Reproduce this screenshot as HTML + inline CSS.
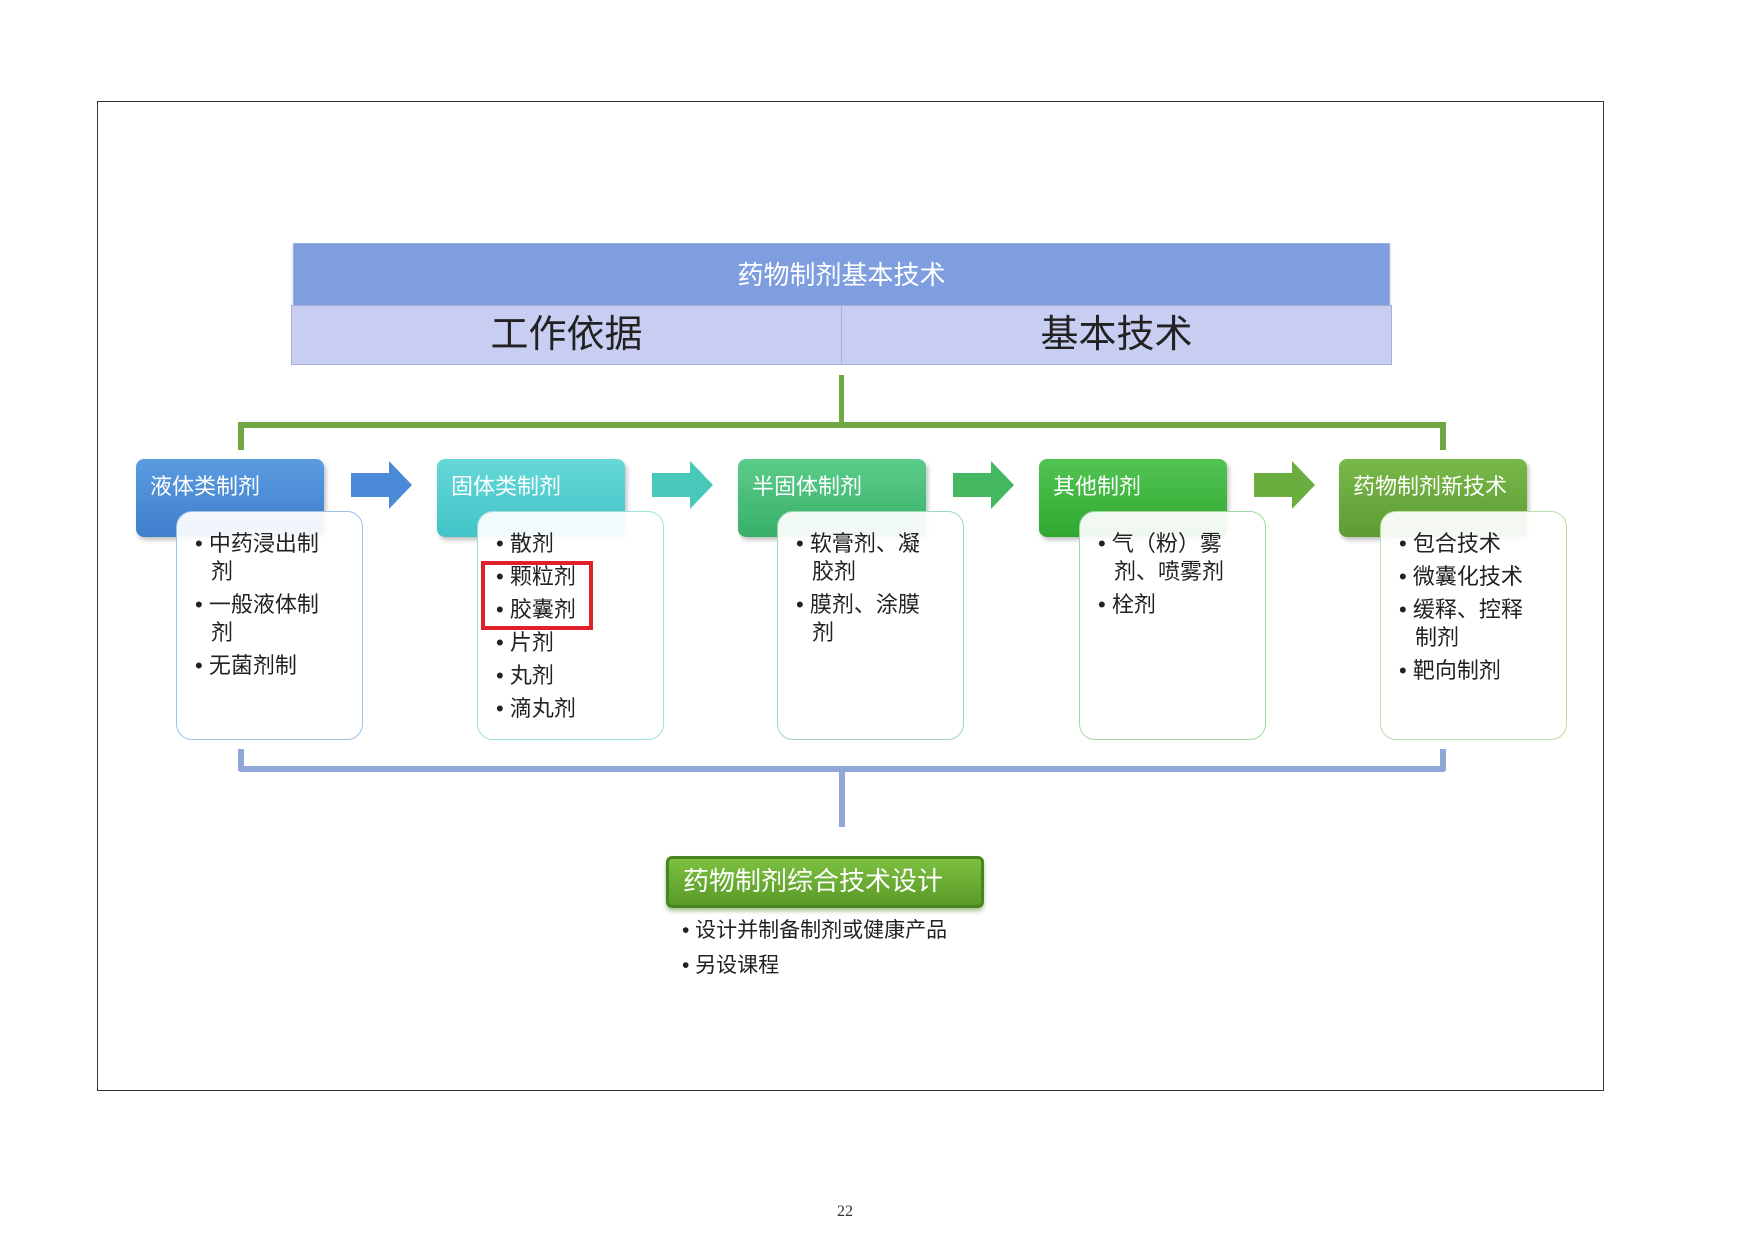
<!DOCTYPE html>
<html><head><meta charset="utf-8"><style>
body{margin:0;width:1754px;height:1240px;background:#fff;position:relative;overflow:hidden;font-family:"Liberation Sans","Noto Sans CJK SC",sans-serif;}
.a{position:absolute;}
.hd{position:absolute;width:188px;height:78px;top:459px;border-radius:8px;color:#fff;font-size:22px;box-sizing:border-box;padding:10px 14px;box-shadow:2px 3px 5px rgba(0,0,0,.25);}
.bx{position:absolute;width:187px;height:229px;top:511px;background:rgba(255,255,255,.93);border-radius:16px;box-sizing:border-box;padding:18px 36px 0 18px;font-size:22px;color:#222;line-height:28px;}
.bx div{padding-left:16px;text-indent:-16px;margin-bottom:5px;}
.ar{position:absolute;top:461px;width:61px;height:48px;}
</style></head><body>
<div class="a" style="left:97px;top:101px;width:1505px;height:988px;border:1px solid #333;"></div>

<div class="a" style="left:293px;top:243px;width:1095px;height:62px;background:#7f9ee0;border:1px solid #9ab0e8;color:#fff;font-size:26px;text-align:center;line-height:62px;box-shadow:0 2px 3px rgba(0,0,0,.2);">药物制剂基本技术</div>
<div class="a" style="left:291px;top:305px;width:549px;height:58px;background:#c8cdf2;border:1px solid #a9b0d8;font-size:38px;color:#222;text-align:center;line-height:58px;">工作依据</div>
<div class="a" style="left:841px;top:305px;width:549px;height:58px;background:#c8cdf2;border:1px solid #a9b0d8;font-size:38px;color:#222;text-align:center;line-height:58px;">基本技术</div>

<div class="a" style="left:839px;top:375px;width:5px;height:52px;background:#70a846;"></div>
<div class="a" style="left:238px;top:422px;width:1208px;height:6px;background:#70a846;border-radius:4px;"></div>
<div class="a" style="left:238px;top:422px;width:6px;height:28px;background:#70a846;"></div>
<div class="a" style="left:1440px;top:422px;width:6px;height:28px;background:#70a846;"></div>

<div class="hd" style="left:136px;background:linear-gradient(#5a9be0,#3f7fcc);">液体类制剂</div>
<div class="hd" style="left:437px;background:linear-gradient(#66d8d8,#42c4c8);">固体类制剂</div>
<div class="hd" style="left:738px;background:linear-gradient(#5acc8a,#38b068);">半固体制剂</div>
<div class="hd" style="left:1039px;background:linear-gradient(#52c452,#30a830);">其他制剂</div>
<div class="hd" style="left:1339px;background:linear-gradient(#7ab84a,#5c9c32);">药物制剂新技术</div>

<svg class="ar" style="left:351px" viewBox="0 0 61 48"><polygon points="0,12 38,12 38,0 61,24 38,48 38,36 0,36" fill="#4a8ad8"/></svg>
<svg class="ar" style="left:652px" viewBox="0 0 61 48"><polygon points="0,12 38,12 38,0 61,24 38,48 38,36 0,36" fill="#48c8b8"/></svg>
<svg class="ar" style="left:953px" viewBox="0 0 61 48"><polygon points="0,12 38,12 38,0 61,24 38,48 38,36 0,36" fill="#44b860"/></svg>
<svg class="ar" style="left:1254px" viewBox="0 0 61 48"><polygon points="0,12 38,12 38,0 61,24 38,48 38,36 0,36" fill="#6aae40"/></svg>

<div class="bx" style="left:176px;border:1.5px solid #9cc0e6;"><div>• 中药浸出制剂</div><div>• 一般液体制剂</div><div>• 无菌剂制</div></div>
<div class="bx" style="left:477px;border:1.5px solid #9ee0de;"><div>• 散剂</div><div>• 颗粒剂</div><div>• 胶囊剂</div><div>• 片剂</div><div>• 丸剂</div><div>• 滴丸剂</div></div>
<div class="bx" style="left:777px;border:1.5px solid #9ed8b8;"><div>• 软膏剂、凝胶剂</div><div>• 膜剂、涂膜剂</div></div>
<div class="bx" style="left:1079px;border:1.5px solid #a0dca0;"><div>• 气（粉）雾剂、喷雾剂</div><div>• 栓剂</div></div>
<div class="bx" style="left:1380px;border:1.5px solid #bcdca8;"><div>• 包合技术</div><div>• 微囊化技术</div><div>• 缓释、控释制剂</div><div>• 靶向制剂</div></div>

<div class="a" style="left:481px;top:561px;width:104px;height:61px;border:4px solid #e0202a;"></div>

<div class="a" style="left:238px;top:749px;width:6px;height:22px;background:#8fa8d8;"></div>
<div class="a" style="left:1440px;top:749px;width:6px;height:22px;background:#8fa8d8;"></div>
<div class="a" style="left:238px;top:766px;width:1208px;height:6px;background:#8fa8d8;border-radius:4px;"></div>
<div class="a" style="left:839px;top:770px;width:6px;height:57px;background:#8fa8d8;"></div>

<div class="a" style="left:666px;top:856px;width:318px;height:52px;box-sizing:border-box;background:linear-gradient(#7cc040,#5a9a28);border:3px solid #4a8420;border-radius:6px;color:#fff;font-size:26px;line-height:44px;padding-left:14px;box-shadow:0 3px 4px rgba(80,140,40,.5);">药物制剂综合技术设计</div>
<div class="a" style="left:682px;top:914px;font-size:21px;color:#222;">• 设计并制备制剂或健康产品</div>
<div class="a" style="left:682px;top:949px;font-size:21px;color:#222;">• 另设课程</div>

<div class="a" style="left:837px;top:1203px;font-family:'Liberation Serif',serif;font-size:16px;color:#333;">22</div>
</body></html>
